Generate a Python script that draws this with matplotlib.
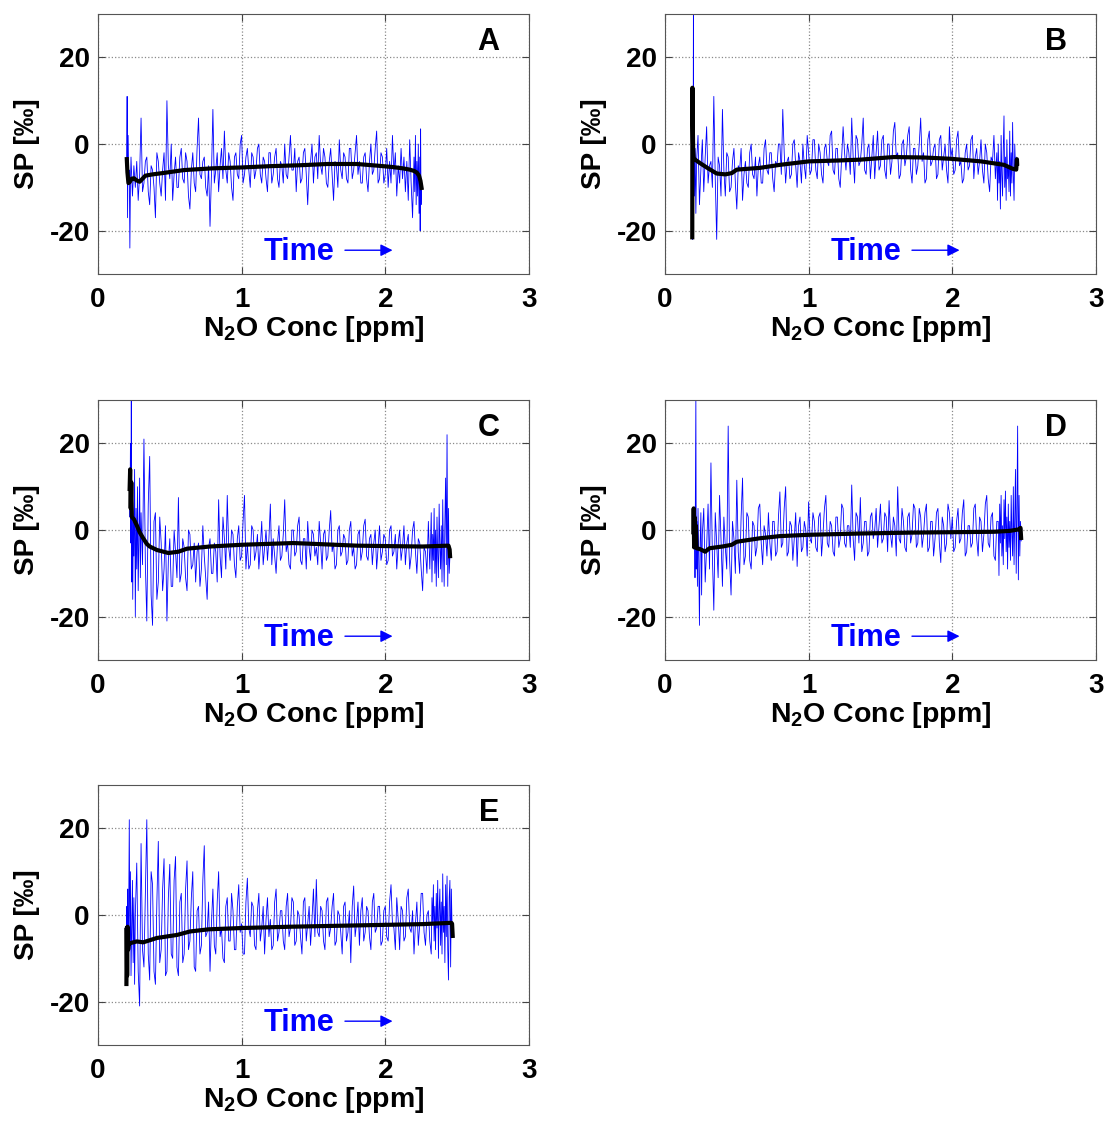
import matplotlib.pyplot as plt

plt.rcParams['font.family'] = ['Liberation Sans', 'DejaVu Sans']
plt.rcParams['font.weight'] = 'bold'
plt.rcParams['axes.labelweight'] = 'bold'
plt.rcParams['axes.unicode_minus'] = False
plt.rcParams['mathtext.fontset'] = 'custom'
plt.rcParams['mathtext.rm'] = 'Liberation Sans:bold'
plt.rcParams['mathtext.default'] = 'rm'

# concentration grid shared by the middle part of every run
conc_mid = [0.32, 0.33, 0.34, 0.35, 0.36, 0.37, 0.38, 0.39, 0.40, 0.41, 0.42, 0.43,
            0.44, 0.45, 0.46, 0.47, 0.48, 0.49, 0.50, 0.51, 0.52, 0.53, 0.54, 0.55,
            0.56, 0.57, 0.58, 0.59, 0.60, 0.61, 0.62, 0.63, 0.64, 0.65, 0.66, 0.67,
            0.68, 0.69, 0.70, 0.71, 0.72, 0.73, 0.74, 0.75, 0.76, 0.77, 0.78, 0.79,
            0.80, 0.81, 0.82, 0.83, 0.84, 0.85, 0.86, 0.87, 0.88, 0.89, 0.90, 0.91,
            0.92, 0.93, 0.94, 0.95, 0.96, 0.97, 0.98, 0.99, 1.00, 1.01, 1.02, 1.03,
            1.04, 1.05, 1.06, 1.07, 1.08, 1.09, 1.10, 1.11, 1.12, 1.13, 1.14, 1.15,
            1.16, 1.17, 1.18, 1.19, 1.20, 1.21, 1.22, 1.23, 1.24, 1.25, 1.26, 1.27,
            1.28, 1.29, 1.30, 1.31, 1.32, 1.33, 1.34, 1.35, 1.36, 1.37, 1.38, 1.39,
            1.40, 1.41, 1.42, 1.43, 1.44, 1.45, 1.46, 1.47, 1.48, 1.49, 1.50, 1.51,
            1.52, 1.53, 1.54, 1.55, 1.56, 1.57, 1.58, 1.59, 1.60, 1.61, 1.62, 1.63,
            1.64, 1.65, 1.66, 1.67, 1.68, 1.69, 1.70, 1.71, 1.72, 1.73, 1.74, 1.75,
            1.76, 1.77, 1.78, 1.79, 1.80, 1.81, 1.82, 1.83, 1.84, 1.85, 1.86, 1.87,
            1.88, 1.89, 1.90, 1.91, 1.92, 1.93, 1.94, 1.95, 1.96, 1.97, 1.98, 1.99]

# late part of runs B-E
tail_conc = [2.00, 2.01, 2.02, 2.03, 2.04, 2.05, 2.06, 2.07, 2.08, 2.09, 2.10,
             2.11, 2.12, 2.13, 2.14, 2.15, 2.16, 2.17, 2.18, 2.19, 2.20,
             2.21, 2.22, 2.23, 2.24, 2.25, 2.26, 2.27, 2.28, 2.29, 2.30, 2.31]

# ---- run A ----
a_start_conc = [0.200, 0.203, 0.206, 0.210, 0.214, 0.218, 0.222, 0.226, 0.230,
                0.240, 0.250, 0.260, 0.270, 0.280, 0.290, 0.300, 0.310]
a_start_sp = [-3, 11, -17, 2, -8, -6, -24, -9, -3,
              -12, -5, -10, -4, -13, -7, 6, -11]
a_mid_sp = [-9, -4, -3, -11, -14, -5, -6, -10, -17, -2, -4, -9,
            -12, -6, -2, -13, 10, -5, -8, 0, -13, -7, -3, -10,
            -10, -3, -1, -8, -9, -2, -4, -12, -15, -6, -2, -9,
            -11, -1, 6, -7, -8, -4, -3, -10, -12, -5, -19, -7,
            8, -9, -6, -2, -11, -5, -1, -8, 3, -6, -9, -2,
            -4, -10, -13, -3, -2, -7, -8, 0, 2, -9, -7, -3,
            -1, -6, -10, -2, -3, -8, -6, -1, 0, -7, -9, -3,
            -4, -8, -11, -2, -2, -9, -7, -3, -1, -8, -10, -4,
            -5, -9, 0, -7, -8, -3, 2, -6, -6, -1, -11, -4,
            -3, -9, -8, -2, -1, -7, -14, -5, -4, 0, -9, -3,
            -2, -8, 2, -5, -7, -1, -3, -9, -10, -4, -1, -7,
            -13, -4, -5, -10, 1, -6, -8, -2, -3, -8, -9, -1,
            -1, -8, -6, -2, 2, -7, -4, -9, -9, -3, -2, -8,
            -11, -4, 0, -7, -6, -1, 3, -9, -8, -2, -3, -9]
a_end_conc = [2.00, 2.01, 2.02, 2.03, 2.04, 2.05, 2.06, 2.07, 2.08, 2.09, 2.10,
              2.11, 2.12, 2.13, 2.14, 2.15, 2.16, 2.17, 2.18, 2.19, 2.20,
              2.205, 2.21, 2.215, 2.22, 2.225, 2.23, 2.235, 2.24, 2.243, 2.246, 2.249, 2.252]
a_end_sp = [-7, -1, -10, -4, -9, 2, -7, -2, -12, -5, -9,
            -1, -8, -3, -11, -4, -13, 1, -9, -17, -3,
            -11, 2, -14, -4, -12, 0, -16, -3, -20, 3.5, -14, -9]
a_mean_conc = [0.200, 0.205, 0.212, 0.220, 0.235, 0.250, 0.270, 0.290, 0.310, 0.330,
               0.380, 0.450, 0.600, 0.800, 1.000, 1.200, 1.400, 1.600, 1.800, 1.950,
               2.050, 2.120, 2.170, 2.200, 2.220, 2.235, 2.245, 2.255]
a_mean_sp = [-3.0, -6.5, -9.0, -8.8, -8.0, -7.9, -8.4, -8.7, -8.0, -7.3,
             -7.0, -6.7, -6.0, -5.6, -5.4, -5.1, -4.9, -4.6, -4.6, -5.0,
             -5.3, -5.6, -5.9, -6.2, -6.6, -7.3, -8.5, -10.6]

# ---- run B ----
b_start_conc = [0.190, 0.192, 0.194, 0.196, 0.198, 0.200, 0.203, 0.206, 0.210, 0.215,
                0.220, 0.230, 0.240, 0.250, 0.260, 0.270, 0.280, 0.290, 0.300, 0.310]
b_start_sp = [-2, -22, 5, -8, 32, -3, 1, -12, -1, -16,
              -4, 2, -14, -6, 1, -11, -3, 4, -9, -5]
b_mid_sp = [-4, -10, 11, -8, -22, -3, -5, -12, 8, -6, -12, -2,
            -3, -11, -10, -4, -1, -9, -15, -5, -6, -1, -13, -7,
            -4, -9, -10, -2, 0, -7, -8, -3, -12, -5, -3, -9,
            -9, -1, 1, -6, -7, -2, -2, -8, -11, -4, -5, 0,
            0, -7, 8, -2, -9, -4, -3, -8, -7, 0, 1, -5,
            -10, -2, -4, -9, 0, -5, -8, 2, -2, -7, -6, 1,
            1, -6, -8, 0, -2, -7, -9, -1, 0, -4, -5, 2,
            3, -6, -7, -1, -1, -8, -10, -3, 4, -2, -6, 0,
            -2, -7, 6, -3, -9, 2, 1, -5, -4, 0, 6, -6,
            -7, -1, 0, -8, -3, 2, -8, -2, 3, -6, -5, 1,
            2, -6, -8, 0, 0, -7, -4, 3, 5, -3, -2, -8,
            -7, 0, 1, -5, -3, 2, 4, -6, -9, -1, -1, -7,
            -5, 0, 6, -4, -2, -9, -8, 1, 3, -5, -4, -1,
            0, -8, -7, 1, 2, -6, -3, 0, -6, -9, 4, -3]
dense_bc_conc = [2.315, 2.32, 2.325, 2.33, 2.335, 2.34, 2.345, 2.35, 2.355,
                 2.36, 2.365, 2.37, 2.375, 2.38, 2.385, 2.39, 2.395, 2.40, 2.405,
                 2.41, 2.415, 2.42, 2.425, 2.43, 2.435, 2.44, 2.445, 2.45]
b_end_sp = [-1, -7, -6, 1, 3, -5, -4, -9, -8, -2, 0,
            -6, -5, 1, 2, -8, -3, -1, -7, -4, 1,
            -6, -9, 0, -2, -8, -11, -3, -4, 2, -8,
            -2, -13, 0, -9, -4, -15, 2, -7, -12, -1,
            6.5, -10, -3, -13, 1, -8, -5, -11, 3, -12,
            -2, -9, 5, -7, -13, 0, -6, -3, -5]
b_mean_conc = [0.190, 0.191, 0.193, 0.196, 0.200, 0.210, 0.244, 0.300, 0.360, 0.420,
               0.465, 0.500, 0.660, 0.800, 1.000, 1.200, 1.360, 1.590, 1.800, 1.990,
               2.200, 2.360, 2.420, 2.445, 2.450, 2.452]
b_mean_sp = [-22.0, 13.0, 6.0, -1.0, -3.2, -3.6, -4.4, -5.6, -6.8, -7.0,
             -6.7, -5.9, -5.5, -4.8, -4.0, -3.8, -3.6, -3.0, -3.1, -3.4,
             -4.0, -4.8, -5.7, -5.9, -3.5, -5.0]

# ---- run C ----
c_start_conc = [0.220, 0.223, 0.226, 0.229, 0.232, 0.235, 0.238, 0.242, 0.246, 0.250,
                0.255, 0.260, 0.265, 0.270, 0.275, 0.280, 0.285, 0.290, 0.295, 0.300, 0.310]
c_start_sp = [12, 3, 20, -3, 30, -12, 8, -16, 2, -6,
              14, -20, 5, -9, 10, -14, -2, 12, -11, 4, -8]
c_mid_sp = [21, -8, -21, 6, 17, -15, -22, 2, 4, -16, -12, 3,
            -3, -14, -9, 1, -21, -7, -2, -13, -13, 0, -5, -11,
            7.5, -12, -10, -2, -4, -11, -14, 0, -1, -9, -8, -3,
            -12, -5, -3, -13, -9, 1, -6, -11, -16, -4, -2, -10,
            -10, -3, -5, -12, 7, -6, -11, 3, -2, -9, 8, -4,
            -7, 0, -1, -8, -11, -2, 1, -7, -6, 2, 8, -9,
            -3, -9, -8, 1, 0, -7, -5, -1, -9, -4, 2, -8,
            -4, 0, -7, -2, 6, -8, -2, -6, -10, -3, 1, -7,
            -6, -1, 7, -5, -3, -8, -9, 0, 0, -6, -5, 1,
            3, -7, -8, -2, -2, -9, 2, -4, -7, 0, -1, -6,
            -4, -8, 2, -3, -9, -1, 0, -7, -6, 0, 4.5, -5,
            -3, -9, -8, 0, 1, -6, -5, -1, -2, -8, -7, 0,
            2, -6, -4, -9, -8, -1, 0, -7, -5, 1, 2.5, -6,
            -7, -2, -1, -8, -3, 0, -9, -4, 1, -7, -5, -1]
c_end_sp = [-2, -8, -7, 0, 1, -6, -5, -1, -9, -3, 0,
            -7, -4, 1, -8, -3, -1, -9, -6, 0, 2,
            -5, -10, -2, -3, -9, -14, -4, -5, -10, 2,
            -9, -3, 4, -12, -1, -7, 5, -10, 0, -13,
            3, -6, -11, 6, -4, -9, 1, -12, 7, -5,
            -13, 2, 12, -8, 22, -13, 5, -10, -6]
c_mean_conc = [0.220, 0.224, 0.228, 0.232, 0.236, 0.250, 0.270, 0.290, 0.315, 0.340,
               0.360, 0.410, 0.490, 0.560, 0.620, 0.780, 1.000, 1.360, 1.800, 2.000,
               2.260, 2.440, 2.448, 2.452]
c_mean_sp = [9.0, 14.0, 5.0, 11.0, 3.0, 2.5, 1.1, -0.5, -1.9, -3.2,
             -3.8, -4.6, -5.3, -5.0, -4.3, -3.8, -3.4, -3.0, -3.6, -3.7,
             -3.8, -3.6, -4.5, -6.5]

# ---- run D ----
d_start_conc = [0.200, 0.203, 0.206, 0.209, 0.212, 0.215, 0.218, 0.222, 0.226, 0.230,
                0.235, 0.240, 0.245, 0.250, 0.255, 0.260, 0.270, 0.280, 0.290, 0.300, 0.310]
d_start_sp = [0, -4, 3, -11, 11, 31, -9, 2, -13, 5,
              -7, -22, -3, 4, -15, -1, 5, -12, -4, 6, -9]
d_mid_sp = [15.5, -6, -18.5, 4, -3, -11, 8, -2, -13, 3, -4, -9,
            24, -7, -15, 2, -2, -10, 11.5, -5, -10, 3, 12, -8,
            -6, 4, 3, -7, -9, 2, 1, -6, -4, 5, 6, -3,
            -8, 1, -1, -6, 4, -3, -7, 2, 2, -6, -5, 3,
            8.8, -4, -3, 5, 10, -6, -5, 2, 1, -7, -2, 4,
            -8.4, 1, 3, -5, -4, 2, 0, -6, 6.5, -2, -3, 4,
            2, -4, -5, 3, 4, -6, -1, 5, 8, -3, -4, 2,
            1, -5, -6, 3, 3, -4, -2, 6, 5, -3, -4, 1,
            1, -4, 10.4, -2, -7, 4, 3, -3, 7.5, -5, -3, 2,
            2, -6, -5, 3, 4, -2, 0, 5, -4, 1, 6, -3,
            -2, 4, 3, -5, 6.8, -1, -4, 3, 1, -6, 10, -2,
            -3, 5, 2, -4, -5, 3, 4, -3, -1, 6, 5, -4,
            -3, 5, 3, -4, -1, 4, 6, -5, -4, 2, 2, -6,
            -2, 4, 5, -3, -7.5, 3, 1, -5, -3, 6, 4, -2]
d_dense_conc = [2.32, 2.325, 2.33, 2.335, 2.34, 2.345, 2.35, 2.355, 2.36, 2.365,
                2.37, 2.375, 2.38, 2.385, 2.39, 2.395, 2.40, 2.405, 2.41, 2.415,
                2.42, 2.425, 2.43, 2.435, 2.44, 2.445, 2.45, 2.455, 2.46, 2.465,
                2.47, 2.475, 2.48]
d_end_sp = [3, -5, -4, 2, 5, -3, -2, 4, 7, -6, -5,
            1, 1, -4, -3, 5, 6, -2, -6, 3, 2,
            -5, -1, 6, 8, -3, -4, 3, 4, -6, -7, 2,
            2, -10.5, 6, -3, 8, -6, 1, -8, 7, -2,
            9, -5, 3, -9, 6, -4, 2, -7, 8, -1,
            -6, 10, -8, 3, 14, -10, 5, 24, -11.5, 8,
            -6, 2, -2.5]
d_mean_conc = [0.198, 0.200, 0.203, 0.206, 0.210, 0.215, 0.220, 0.244, 0.280, 0.310,
               0.400, 0.465, 0.500, 0.660, 0.800, 1.000, 1.360, 1.700, 1.990, 2.290,
               2.400, 2.470, 2.475, 2.480]
d_mean_sp = [-1.0, 5.0, -4.0, 3.0, -3.0, 1.0, -4.2, -4.4, -5.0, -4.2,
             -3.8, -3.4, -2.7, -1.9, -1.4, -1.1, -0.8, -0.6, -0.5, -0.4,
             -0.2, 0.2, 0.5, -2.3]

# ---- run E ----
e_start_conc = [0.195, 0.198, 0.201, 0.204, 0.207, 0.210, 0.214, 0.218, 0.222, 0.226,
                0.230, 0.235, 0.240, 0.245, 0.250, 0.255, 0.260, 0.270, 0.280, 0.290,
                0.300, 0.310]
e_start_sp = [-5, -16, 2, -9, 6, -12, 1, 22, -7, 10,
              -14, -3, 8, -11, 4, -16, 0, 12, -13, -21,
              16.5, -8]
e_mid_sp = [-12, 5, 22, -9, -15, 10, 7, -13, -16, 3, 17, -11,
            -8, 6, 13, -14, -13, 4, 11.7, -9, -10, 8, 13.5, -12,
            -14, 3, 5, -11, -9, 6, 12.5, -8, -6, 4, 10, -12,
            -13, 1, 2, -9, -7, 8, 16, -5, -4, 3, -13, -2,
            6, -7, -9, 3, 10, -5, -3, -10, -11, 2, 4, -6,
            -6, 5, 1, -8, -8, 2, 7, -4, -2, -9, -9, 3,
            8.5, -3, -5, 3, 2, -7, -8, 1, 5, -6, -3, 2,
            -9, -1, 4, -5, -1, -8, -7, 3, 6, -6, -4, 1,
            1, -6, -8, 2, 5, -5, -3, 4, 3, -7, -6, 1,
            0, -5, -9, 3, 4, -6, -2, 2, -7, -1, 6, -5,
            8.2, -4, -5, 2, 1, -6, -8, 3, 4, -5, -3, 2,
            5, -7, -6, 1, 0, -4, -9, 2, 3, -6, -4, 1,
            -11, 2, 6.7, -5, -2, 3, -7, 1, 4, -6, -4, 2,
            1, -5, -8, 3, 5, -4, -3, 2, 2, -7, -6, 1]
e_dense_conc = [2.32, 2.325, 2.33, 2.335, 2.34, 2.345, 2.35, 2.355, 2.36, 2.365,
                2.37, 2.375, 2.38, 2.385, 2.39, 2.395, 2.40, 2.405, 2.41, 2.415,
                2.42, 2.425, 2.43, 2.435, 2.44, 2.445, 2.45, 2.455, 2.46, 2.465, 2.47]
e_end_sp = [2, -5, -6, 3, 7, -2, -3, -8, 4, -1, -8,
            2, 1, -6, -5, 4, 6, -3, -4, 1, -9,
            -2, 3, -7, -2, 5, 5, -4, -7, 0, 1, -6,
            -9, 4, -2, 7, -6, 2, -8, 5, -3, 8,
            -10, 1, 6, -7, 3, -9, 9.5, -4, 2, -11,
            7, -5, 9, -8, -15, 4, 8, -12, 6, -3, -5]
e_mean_conc = [0.198, 0.200, 0.203, 0.206, 0.210, 0.215, 0.223, 0.270, 0.315, 0.410,
               0.550, 0.640, 0.770, 1.000, 1.340, 1.800, 2.260, 2.460, 2.465, 2.470]
e_mean_sp = [-16.4, -3.0, -14.0, -2.7, -8.0, -6.5, -6.5, -6.1, -6.3, -5.3,
             -4.6, -3.8, -3.3, -3.0, -2.7, -2.4, -2.1, -1.8, -2.0, -5.3]

panels = [
    ('A', a_start_conc + conc_mid + a_end_conc, a_start_sp + a_mid_sp + a_end_sp,
     a_mean_conc, a_mean_sp, [0.0885, 0.7564]),
    ('B', b_start_conc + conc_mid + tail_conc + dense_bc_conc,
     b_start_sp + b_mid_sp + b_end_sp, b_mean_conc, b_mean_sp, [0.6007, 0.7564]),
    ('C', c_start_conc + conc_mid + tail_conc + dense_bc_conc,
     c_start_sp + c_mid_sp + c_end_sp, c_mean_conc, c_mean_sp, [0.0885, 0.4133]),
    ('D', d_start_conc + conc_mid + tail_conc + d_dense_conc,
     d_start_sp + d_mid_sp + d_end_sp, d_mean_conc, d_mean_sp, [0.6007, 0.4133]),
    ('E', e_start_conc + conc_mid + tail_conc + e_dense_conc,
     e_start_sp + e_mid_sp + e_end_sp, e_mean_conc, e_mean_sp, [0.0885, 0.0711]),
]

fig = plt.figure(figsize=(11.07, 11.25), dpi=100)

for label, conc, sp, mconc, msp, (left, bottom) in panels:
    ax = fig.add_axes([left, bottom, 0.3893, 0.2311])
    ax.plot(conc, sp, color='#0000ff', lw=0.6)
    ax.plot(mconc, msp, color='black', lw=3, solid_capstyle='butt')

    ax.set_xlim(0, 3)
    ax.set_ylim(-30, 30)
    ax.set_xticks([0, 1, 2, 3])
    ax.set_yticks([-20, 0, 20])
    ax.grid(True, linestyle=':', color='#8a8a8a', lw=0.9)
    ax.set_axisbelow(True)
    ax.tick_params(direction='in', length=5, width=0.8, top=True, right=True,
                   labelsize=20, color='#444444')
    ax.tick_params(axis='x', pad=9)
    ax.tick_params(axis='y', pad=6)
    for s in ax.spines.values():
        s.set_color('#555555')
        s.set_linewidth(0.8)

    ax.set_xlabel('N$_2$O Conc [ppm]', fontsize=20.5)
    ax.xaxis.set_label_coords(0.5, -0.155)
    ax.set_ylabel('SP [‰]', fontsize=20)
    ax.yaxis.set_label_coords(-0.135, 0.5)

    ax.text(2.72, 23.5, label, fontsize=22, ha='center', va='center')
    ax.text(1.155, -25, 'Time', fontsize=22, color='#0000ff', va='center', ha='left')
    ax.annotate('', xy=(2.07, -24.5), xytext=(1.70, -24.5),
                arrowprops=dict(arrowstyle='-|>', color='#0000ff', lw=1,
                                mutation_scale=18))

fig.savefig('out.png', dpi=100)
